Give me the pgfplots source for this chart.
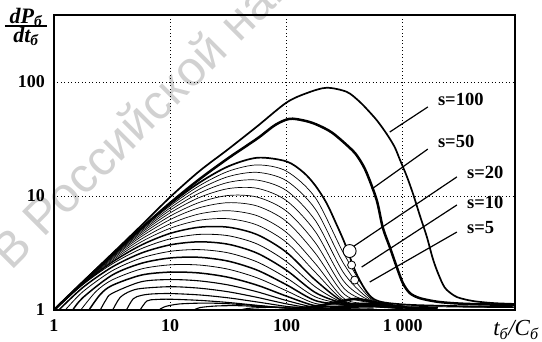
\documentclass[border=0pt]{standalone}
\usepackage{fontspec}
\setmainfont{Liberation Serif}
\newfontfamily\wmfont{Liberation Sans}
\usepackage{pgfplots}
\pgfplotsset{compat=1.18}
\pgfplotsset{cl/.style={black, line width=#1, smooth, line join=round}}
\begin{document}
\begin{tikzpicture}
\useasboundingbox (-54pt,-31pt) rectangle (488pt,310pt);
\node[rotate=45, anchor=base west, text=black!18, font=\wmfont\fontsize{49}{55}\selectfont, inner sep=0pt] at (-42.9pt,38.3pt) {В Российской национальной библиотеке};
\begin{axis}[
  at={(0pt,0pt)}, anchor=south west,
  scale only axis, width=461pt, height=295pt,
  xmode=log, ymode=log,
  xmin=1, xmax=9240, ymin=1, ymax=387,
  axis line style={line width=1.8pt},
  xtick={1,10,100,1000}, xticklabels={1,10,100,1\hspace{0.2em}000},
  ytick={1,10,100}, yticklabels={1,10,100},
  major tick length=0pt, minor tick length=0pt,
  grid=major,
  major grid style={black, line width=0.8pt, dash pattern=on 1pt off 2.5pt},
  tick label style={font=\fontsize{18}{20}\selectfont\bfseries, inner sep=0pt},
  xticklabel style={anchor=north, yshift=-9pt},
  yticklabel style={anchor=east, xshift=-9pt},
  axis on top,
]
% s = 100
\addplot[cl=1.7pt] coordinates {(1,1) (1.778,1.77) (3.162,3.12) (5.623,5.5) (10,9.8) (17.78,16.5) (31.62,25.8) (56.23,41) (100,66) (150,80) (221,89) (329,82) (420,68) (490,58) (600,46) (728,35) (850,27) (942,21) (1080,15) (1220,10.6) (1400,6.8) (1610,4.4) (1800,2.9) (1963,2.24) (2200,1.7) (2393,1.5) (2920,1.3) (4000,1.2) (6000,1.15) (9240,1.13)};
% s = 50
\addplot[cl=2.5pt] coordinates {(1,1) (1.778,1.76) (3.162,3.05) (5.623,5.2) (10,8.7) (17.78,14.0) (31.62,21.5) (56.23,32) (80,42) (106,47.5) (140,46) (180,42.5) (249,35.7) (371,25) (430,20.5) (490,15.9) (597,9.2) (673,5.3) (773,3.57) (888,2.38) (1000,1.73) (1148,1.41) (1402,1.27) (2000,1.18) (3000,1.14) (5000,1.12) (9240,1.11)};
% cloud s <= 20
\addplot[cl=1.7pt] coordinates {(1,1) (1.778,1.765) (3.162,3.07) (5.623,5.21) (10,8.51) (17.78,13.08) (31.62,18.21) (56.23,21.66) (100,20.10) (140,16.1) (177.8,12.27) (221,8.67) (270,5.6) (316.2,3.88) (409,1.98) (562.3,1.25) (1000,1.12) (3162,1.08) (9000,1.06)};
\addplot[cl=0.7pt] coordinates {(1,1) (1.778,1.761) (3.162,3.045) (5.623,5.11) (10,8.21) (17.78,12.29) (31.62,16.48) (56.23,18.73) (100,16.50) (177.8,9.60) (316.2,3.03) (562.3,1.22) (1000,1.10)};
\addplot[cl=0.7pt] coordinates {(1,1) (1.778,1.758) (3.162,3.017) (5.623,5.006) (10,7.88) (17.78,11.46) (31.62,14.80) (56.23,16.12) (100,13.60) (177.8,7.62) (316.2,2.47) (562.3,1.2) (1000,1.09) (3162,1.06) (9000,1.05)};
\addplot[cl=0.7pt] coordinates {(1,1) (1.778,1.753) (3.162,2.986) (5.623,4.883) (10,7.517) (17.78,10.59) (31.62,13.17) (56.23,13.77) (100,11.15) (177.8,6.06) (316.2,2.057) (562.3,1.18) (1000,1.08)};
\addplot[cl=0.7pt] coordinates {(1,1) (1.778,1.747) (3.162,2.949) (5.623,4.743) (10,7.12) (17.78,9.70) (31.62,11.61) (56.23,11.67) (100,9.10) (177.8,4.84) (316.2,1.75) (562.3,1.17) (1000,1.08)};
\addplot[cl=0.7pt] coordinates {(1,1) (1.778,1.741) (3.162,2.904) (5.623,4.579) (10,6.678) (17.78,8.78) (31.62,10.11) (56.23,9.77) (100,7.36) (177.8,3.864) (316.2,1.528) (562.3,1.16) (1000,1.07)};
\addplot[cl=0.7pt] coordinates {(1,1) (1.778,1.7325) (3.162,2.852) (5.623,4.397) (10,6.221) (17.78,7.887) (31.62,8.740) (56.23,8.154) (100,5.972) (177.8,3.125) (316.2,1.367) (562.3,1.15) (1000,1.07)};
\addplot[cl=0.7pt] coordinates {(1,1) (1.778,1.722) (3.162,2.787) (5.623,4.182) (10,5.712) (17.78,6.963) (31.62,7.426) (56.23,6.699) (100,4.789) (177.8,2.537) (316.2,1.25) (562.3,1.14) (1000,1.06)};
\addplot[cl=0.7pt] coordinates {(1,1) (1.778,1.71) (3.162,2.715) (5.623,3.957) (10,5.213) (17.78,6.124) (31.62,6.318) (56.23,5.549) (100,3.916) (177.8,2.132) (316.2,1.2) (562.3,1.13) (1000,1.06)};
\addplot[cl=1.5pt] coordinates {(1,1) (1.778,1.6945) (3.162,2.629) (5.623,3.7065) (10,4.701) (17.78,5.323) (31.62,5.323) (56.23,4.573) (100,3.206) (177.8,1.822) (316.2,1.17) (562.3,1.12) (1000,1.05)};
\addplot[cl=0.8pt] coordinates {(1,1) (1.778,1.676) (3.162,2.533) (5.623,3.446) (10,4.207) (17.78,4.604) (31.62,4.481) (56.23,3.783) (100,2.657) (177.8,1.591) (316.2,1.15) (562.3,1.11) (1000,1.05)};
\addplot[cl=1.5pt] coordinates {(1.1,1) (1.778,1.581) (3.162,2.381) (5.623,3.154) (10,3.728) (17.78,3.964) (31.62,3.771) (56.23,3.144) (100,2.231) (177.8,1.419) (316.2,1.14) (562.3,1.1) (1000,1.05)};
\addplot[cl=0.8pt] coordinates {(1.25,1) (1.778,1.452) (3.162,2.207) (5.623,2.854) (10,3.270) (17.78,3.386) (31.62,3.169) (56.23,2.634) (100,1.911) (177.8,1.301) (316.2,1.13) (562.3,1.09) (1000,1.04)};
\addplot[cl=1.5pt] coordinates {(1.45,1) (1.778,1.288) (3.162,2.023) (5.623,2.565) (10,2.860) (17.78,2.899) (31.62,2.681) (56.23,2.232) (100,1.664) (177.8,1.208) (316.2,1.12) (562.3,1.08) (1000,1.04)};
\addplot[cl=0.8pt] coordinates {(1.7,1) (2.3,1.455) (3.162,1.835) (5.623,2.289) (10,2.490) (17.78,2.480) (31.62,2.278) (56.23,1.910) (100,1.473) (177.8,1.140) (316.2,1.11) (562.3,1.07) (1000,1.04)};
\addplot[cl=1.5pt] coordinates {(2,1) (2.5,1.368) (3.162,1.643) (5.623,2.023) (10,2.150) (17.78,2.112) (31.62,1.936) (56.23,1.648) (100,1.323) (177.8,1.090) (316.2,1.08) (562.3,1.07) (1000,1.03)};
\addplot[cl=1.1pt] coordinates {(2.5,1) (2.8,1.227) (3.162,1.400) (5.623,1.769) (10,1.849) (17.78,1.801) (31.62,1.658) (56.23,1.442) (100,1.211) (177.8,1.055) (316.2,1.05) (562.3,1.04)};
\addplot[cl=1.1pt] coordinates {(3.2,1) (3.7,1.286) (4.5,1.458) (5.623,1.545) (10,1.601) (17.78,1.554) (31.62,1.444) (56.23,1.289) (100,1.132) (177.8,1.032) (316.2,1.03)};
\addplot[cl=1.1pt] coordinates {(4.2,1) (4.8,1.254) (5.623,1.342) (7,1.383) (10,1.394) (17.78,1.356) (31.62,1.278) (56.23,1.175) (100,1.076) (177.8,1.017)};
\addplot[cl=1.1pt] coordinates {(5.5,1) (6.3,1.2) (7.5,1.236) (10,1.243) (17.78,1.215) (31.62,1.164) (56.23,1.099) (100,1.040) (177.8,1.008)};
\addplot[cl=1.1pt] coordinates {(8,1) (9,1.07) (12,1.13) (20,1.15) (31.62,1.135) (56.23,1.09) (100,1.04) (177.8,1.01)};
\addplot[cl=1.1pt] coordinates {(16,1) (18,1.05) (25,1.085) (40,1.09) (70,1.06) (120,1.03) (200,1.01)};
\addplot[cl=1.1pt] coordinates {(40,1) (50,1.04) (90,1.06) (160,1.05) (300,1.03) (600,1.01)};
% dense band at the bottom
\addplot[cl=2.6pt] coordinates {(120,1.02) (200,1.1) (300,1.2) (400,1.25) (550,1.18) (800,1.1) (1100,1.05) (2000,1.03)};
\addplot[cl=2.2pt] coordinates {(250,1.03) (400,1.12) (600,1.12) (900,1.06) (1500,1.03)};
% leader lines
\addplot[black, line width=1.2pt] coordinates {(1644,60.4) (773,36.4)};
\addplot[black, line width=1.2pt] coordinates {(1644,25.8) (541,11.5)};
\addplot[black, line width=1.2pt] coordinates {(2923,14.7) (371,3.57)};
\addplot[black, line width=1.2pt] coordinates {(2923,8.34) (443,2.38)};
\addplot[black, line width=1.2pt] coordinates {(2923,4.83) (520,1.76)};
% circles
\addplot[only marks, mark=*, mark size=6.5pt, mark options={fill=white, draw=black, line width=0.9pt}] coordinates {(349,3.29)};
\addplot[only marks, mark=*, mark size=4pt, mark options={fill=white, draw=black, line width=0.8pt}] coordinates {(363,2.48) (386,1.83)};
% labels
\node[anchor=west, inner sep=0pt, font=\fontsize{18.5}{20}\selectfont\bfseries] at (axis cs:2004,71) {s=100};
\node[anchor=west, inner sep=0pt, font=\fontsize{18.5}{20}\selectfont\bfseries] at (axis cs:2004,29.8) {s=50};
\node[anchor=west, inner sep=0pt, font=\fontsize{18.5}{20}\selectfont\bfseries] at (axis cs:3564,16.2) {s=20};
\node[anchor=west, inner sep=0pt, font=\fontsize{18.5}{20}\selectfont\bfseries] at (axis cs:3564,8.86) {s=10};
\node[anchor=west, inner sep=0pt, font=\fontsize{18.5}{20}\selectfont\bfseries] at (axis cs:3564,5.24) {s=5};
\end{axis}
\node[inner sep=0pt, anchor=base, font=\fontsize{22}{24}\selectfont\bfseries\itshape] at (-28pt,287pt) {dP\textsubscript{б}};
\draw[line width=1.3pt] (-49pt,284pt) -- (-7pt,284pt);
\node[inner sep=0pt, anchor=base, font=\fontsize{22}{24}\selectfont\bfseries\itshape] at (-28pt,268pt) {dt\textsubscript{б}};
\node[inner sep=0pt, font=\fontsize{23}{25}\selectfont\itshape] at (462pt,-20pt) {t\textsubscript{б}/C\textsubscript{б}};
\end{tikzpicture}
\end{document}
